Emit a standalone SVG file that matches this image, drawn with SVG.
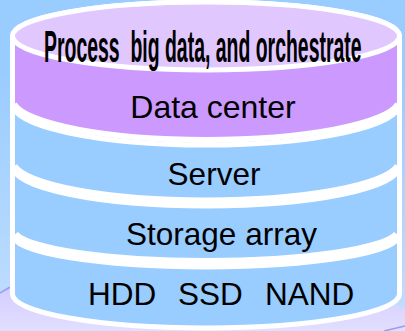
<svg xmlns="http://www.w3.org/2000/svg" width="405" height="331" viewBox="0 0 405 331">
  <defs>
    <linearGradient id="bg" x1="0" y1="0" x2="0" y2="1">
      <stop offset="0" stop-color="#99ccff"/>
      <stop offset="0.2" stop-color="#99ccff"/>
      <stop offset="1" stop-color="#c2deff"/>
    </linearGradient>
    <linearGradient id="lav" x1="0" y1="0" x2="0" y2="1">
      <stop offset="0" stop-color="#cfcaff"/>
      <stop offset="1" stop-color="#e2deff"/>
    </linearGradient>
    <style>
      .blue { fill: #99ccff; stroke: #ffffff; stroke-width: 5; stroke-linejoin: round; }
      .purple { fill: #cc99ff; stroke: #ffffff; stroke-width: 5; stroke-linejoin: round; }
      .topface { fill: #e0c8ff; stroke: #ffffff; stroke-width: 5; }
      .band { fill: none; stroke: #ffffff; }
      .lbl { font-family: "Liberation Sans", Arial, sans-serif; font-size: 31.5px; fill: #000000; }
      .art { font-family: "Liberation Sans", Arial, sans-serif; font-size: 44px; font-weight: bold; fill: #000000; }
    </style>
  </defs>

  <g id="background">
    <rect x="0" y="0" width="405" height="331" fill="url(#bg)"/>
    <path d="M0,293 C40,268 300,268 405,308 L405,331 L0,331 Z" fill="url(#lav)"/>
    <path d="M0,293 C5,290 10,287 16,284" fill="none" stroke="#9a9af0" stroke-width="1.5"/>
    <path d="M384,331 L405,326" fill="none" stroke="#9a9af0" stroke-width="1.5"/>
  </g>

  <g id="layer-hdd">
    <path class="blue" d="M12.5,200 L12.5,294 A193.5 34 0 0 0 399.5,294 L399.5,200 Z"/>
    <text class="lbl" y="305"><tspan x="88">HDD</tspan><tspan x="178">SSD</tspan><tspan x="265">NAND</tspan></text>
  </g>

  <g id="layer-storage">
    <path class="blue" d="M12.5,140 L12.5,235 A193.5 32 0 0 0 399.5,235 L399.5,140 Z"/>
    <path class="band" stroke-width="10" d="M14,235 A193.5 32 0 0 0 398,235"/>
    <text class="lbl" x="221.5" y="245" text-anchor="middle">Storage array</text>
  </g>

  <g id="layer-server">
    <path class="blue" d="M12.5,80 L12.5,166 A193.5 40 0 0 0 399.5,166 L399.5,80 Z"/>
    <path class="band" stroke-width="7" d="M14,166 A193.5 40 0 0 0 398,166"/>
    <text class="lbl" x="214" y="185" text-anchor="middle">Server</text>
  </g>

  <g id="layer-datacenter">
    <path class="purple" d="M12.5,36 L12.5,104 A193.5 41 0 0 0 399.5,104 L399.5,36 A193.5 34 0 0 0 12.5,36 Z"/>
    <path class="band" stroke-width="6" d="M14,104 A193.5 41 0 0 0 398,104"/>
    <ellipse class="topface" cx="206" cy="36" rx="193.5" ry="34"/>
    <text class="lbl" x="213" y="118" text-anchor="middle" style="font-size:32px">Data center</text>
    <text class="art" transform="translate(44,62) scale(0.442,1)" x="0" y="0" xml:space="preserve">Process  big data, and orchestrate</text>
  </g>
</svg>
